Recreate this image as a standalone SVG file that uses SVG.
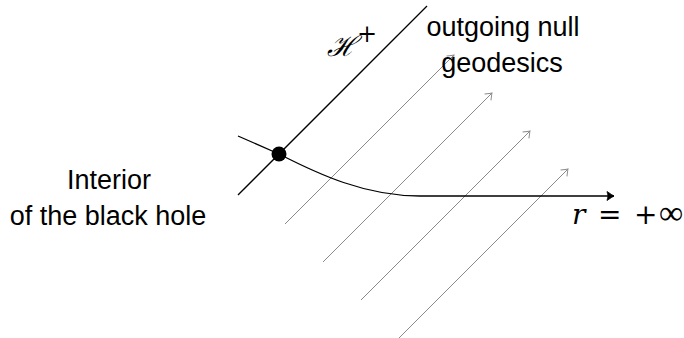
<svg xmlns="http://www.w3.org/2000/svg" width="684" height="338" viewBox="0 0 684 338">
<style>
  .lbl { font-family: "Liberation Sans", Arial, sans-serif; font-size: 27px; fill: #000; }
  .math { font-family: "DejaVu Serif", "Liberation Serif", serif; font-size: 28px; fill: #000; }
  .geo { stroke: #8a8a8a; stroke-width: 1; fill: none; }
  .blk { stroke: #000; stroke-width: 1.3; fill: none; }
</style>
<defs>
  <marker id="gtip" markerUnits="userSpaceOnUse" markerWidth="14" markerHeight="14" refX="0" refY="0" viewBox="-8 -7 10 14" orient="auto">
    <path d="M-6,-4.5 Q-1.5,-1 0,0 Q-1.5,1 -6,4.5" stroke="#8a8a8a" stroke-width="1" fill="none"/>
  </marker>
  <marker id="btip" markerUnits="userSpaceOnUse" markerWidth="14" markerHeight="14" refX="0" refY="0" viewBox="-8 -7 10 14" orient="auto">
    <path d="M-7,-4.5 Q-2,-1 0,0 Q-2,1 -7,4.5 Q-5,0 -7,-4.5 Z" stroke="#000" stroke-width="0.8" fill="#000"/>
  </marker>
</defs>
<g id="connectors">
  <line class="geo" x1="285" y1="224" x2="454" y2="55" marker-end="url(#gtip)"/>
  <line class="geo" x1="323" y1="262" x2="492" y2="93" marker-end="url(#gtip)"/>
  <line class="geo" x1="361" y1="300" x2="530" y2="131" marker-end="url(#gtip)"/>
  <line class="geo" x1="399" y1="338" x2="568" y2="169" marker-end="url(#gtip)"/>
  <path id="curve" class="blk" d="M238,136 L279,154 C318,174 365,196 420,196 H614" marker-end="url(#btip)"/>
</g>
<g id="horizon">
  <line class="blk" x1="238" y1="195" x2="427" y2="6"/>
  <text class="math" x="327" y="56" font-style="italic" font-size="38">ℋ<tspan font-style="normal" font-size="24" dx="0" dy="-14">+</tspan></text>
</g>
<g id="point">
  <circle cx="279" cy="154" r="7.5" fill="#000"/>
</g>
<g id="geodesics-label">
  <text class="lbl" x="503" y="36" text-anchor="middle">outgoing null</text>
  <text class="lbl" x="502" y="72" text-anchor="middle">geodesics</text>
</g>
<g id="interior-label">
  <text class="lbl" x="109" y="189" text-anchor="middle">Interior</text>
  <text class="lbl" x="108" y="225" text-anchor="middle">of the black hole</text>
</g>
<g id="infinity-label">
  <text class="math" y="224" font-size="30"><tspan x="572" font-style="italic">r</tspan><tspan x="598">=</tspan><tspan x="634">+</tspan><tspan x="659" font-size="34" font-family="Liberation Serif, serif">∞</tspan></text>
</g>
</svg>
